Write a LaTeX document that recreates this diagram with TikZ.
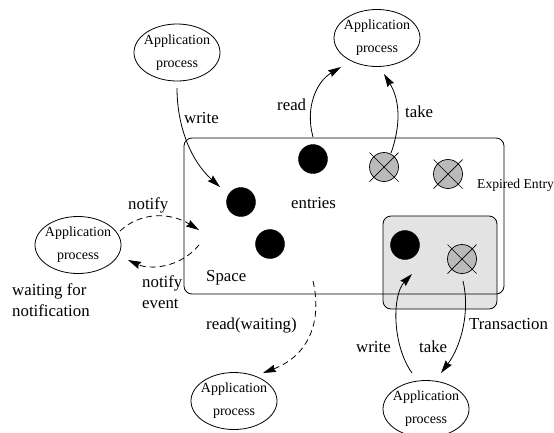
\documentclass[tikz,border=0pt]{standalone}
\usepackage{fontspec}
\setmainfont{Liberation Serif}
\usetikzlibrary{shapes.geometric,arrows.meta}
\tikzset{
  x=1pt,y=-1pt,
  appbox/.style={ellipse,draw,line width=0.8pt,inner sep=0pt,minimum width=86pt,minimum height=57pt},
  apptext/.style={inner sep=0pt,align=center,font=\fontsize{14}{23}\selectfont},
  blob/.style={circle,fill=black,draw=black,inner sep=0pt,minimum size=29pt},
  xblob/.style={circle,fill=black!27,draw=black,line width=0.7pt,inner sep=0pt,minimum size=29pt},
  lab/.style={inner sep=0pt,font=\fontsize{16.8}{20.5}\selectfont,align=left},
  conn/.style={line width=0.8pt,-{Stealth[length=13pt,width=7.5pt,inset=1.5pt]}},
  dconn/.style={conn,dash pattern=on 6pt off 4pt},
  xline/.style={line width=0.7pt}
}
\begin{document}
\begin{tikzpicture}
\useasboundingbox (0,0) rectangle (554,432);
\node[draw,line width=0.8pt,rounded corners=8pt,fill=black!11,minimum width=114pt,minimum height=93pt,inner sep=0pt] (txn) at (440,262.5) {};
\node[draw,line width=0.8pt,rounded corners=8pt,minimum width=320pt,minimum height=156pt,inner sep=0pt] (space) at (344,216) {};
\node[appbox] (a1) at (177,52.5) {};
\node[appbox] (a2) at (377,38) {};
\node[appbox] (a3) at (78,245) {};
\node[appbox] (a4) at (234,401) {};
\node[appbox] (a5) at (426,409) {};
\foreach \n in {a1,a2,a3,a4,a5}{
  \node[apptext] (t\n) at (\n) {Application\\process};
}
\node[blob] (e1) at (313,159) {};
\node[blob] (e2) at (241,202) {};
\node[blob] (e3) at (270,244) {};
\node[blob] (e4) at (405,245) {};
\node[xblob] (x1) at (384,167) {};
\node[xblob] (x2) at (448,174) {};
\node[xblob] (x3) at (462,259) {};
\foreach \n in {x1,x2,x3}{
  \draw[xline] ([shift={(-14.5,-14.5)}]\n.center) -- ([shift={(14.5,14.5)}]\n.center);
  \draw[xline] ([shift={(-14.5,14.5)}]\n.center) -- ([shift={(14.5,-14.5)}]\n.center);
}
\coordinate (w1s) at (177,88);
\coordinate (w1e) at (220,187);
\coordinate (r1s) at (313,137);
\coordinate (r1e) at (341,67);
\coordinate (t1s) at (391,153);
\coordinate (t1e) at (384,74);
\coordinate (n1s) at (120,231);
\coordinate (n1e) at (199,230);
\coordinate (n2s) at (199,245);
\coordinate (n2e) at (128,260);
\coordinate (rws) at (313,281);
\coordinate (rwe) at (263,373);
\coordinate (w2s) at (412,373);
\coordinate (w2e) at (412,274);
\coordinate (t2s) at (463,281);
\coordinate (t2e) at (441,373);
\draw[conn] (w1s) .. controls (177,125) and (190,160) .. (w1e);
\draw[conn] (r1s) .. controls (305,108) and (316,82) .. (r1e);
\draw[conn] (t1s) .. controls (401,125) and (400,100) .. (t1e);
\draw[dconn] (n1s) .. controls (140,212) and (170,212) .. (n1e);
\draw[dconn] (n2s) .. controls (180,268) and (150,270) .. (n2e);
\draw[dconn] (rws) .. controls (322,320) and (310,355) .. (rwe);
\draw[conn] (w2s) .. controls (392,345) and (392,295) .. (w2e);
\draw[conn] (t2s) .. controls (470,310) and (462,345) .. (t2e);
\node[lab,anchor=base west] (lwrite) at (184,123) {write};
\node[lab,anchor=base west] (lread) at (277,110) {read};
\node[lab,anchor=base west] (ltake) at (405,117) {take};
\node[lab,anchor=base west] (lent) at (291,208) {entries};
\node[lab,anchor=base west] (lspace) at (206,281) {Space};
\node[lab,anchor=base west] (lnot) at (128,209) {notify};
\node[lab,anchor=base west] (lne) at (142,308) {notify\\event};
\node[lab,anchor=base west] (lwait) at (12,316) {waiting for\\notification};
\node[lab,anchor=base west] (lrw) at (206,329) {read(waiting)};
\node[lab,anchor=base west] (lw2) at (356,352) {write};
\node[lab,anchor=base west] (lt2) at (419,352) {take};
\node[lab,anchor=base west] (ltr) at (469,329) {Transaction};
\node[inner sep=0pt,anchor=base west,font=\fontsize{13.6}{16}\selectfont] (lex) at (477,188) {Expired Entry};
\end{tikzpicture}
\end{document}
